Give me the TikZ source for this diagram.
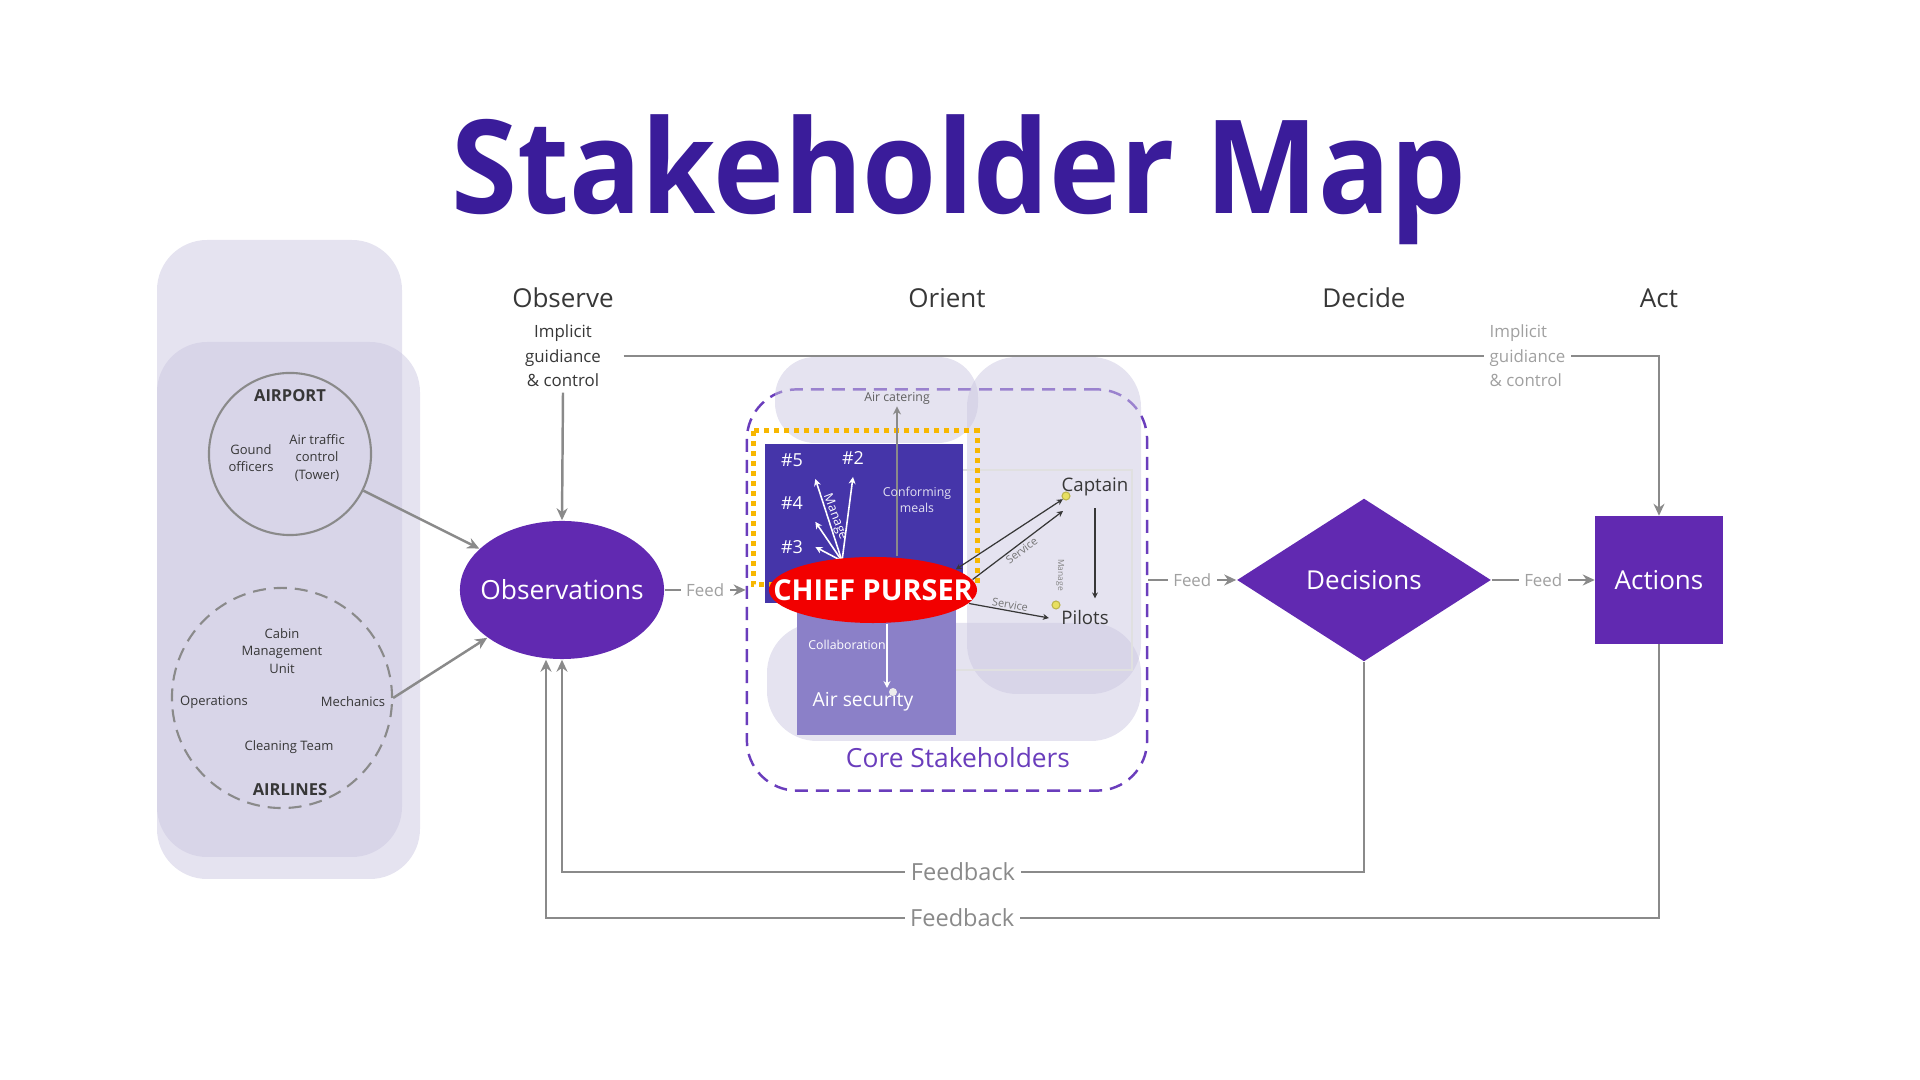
\documentclass[tikz,border=0pt]{standalone}
\usepackage{fontspec}
\setmainfont{Open Sans}
\usetikzlibrary{arrows.meta,positioning,calc,shapes.geometric}
\definecolor{titleindigo}{RGB}{58,28,154}
\definecolor{loopviolet}{RGB}{97,41,177}
\definecolor{crewblue}{RGB}{69,53,169}
\definecolor{securitylilac}{RGB}{139,128,200}
\definecolor{hazelilac}{RGB}{203,199,225}
\definecolor{linegray}{RGB}{138,138,138}
\definecolor{labelgray}{RGB}{160,160,160}
\definecolor{inkgray}{RGB}{55,55,55}
\definecolor{pursered}{RGB}{242,0,0}
\definecolor{focusyellow}{RGB}{247,183,0}
\definecolor{coreviolet}{RGB}{106,61,188}
\definecolor{dotyellow}{RGB}{232,224,96}
\newcommand{\fsz}[2]{\fontsize{#1}{#2}\selectfont}

\begin{document}
\begin{tikzpicture}[x=0.01cm,y=-0.01cm,
  hazebox/.style={fill=hazelilac,fill opacity=0.5,draw=none,rounded corners=0.5cm},
  group/.style={circle,draw=linegray,line width=0.6pt,minimum size=1.62cm,inner sep=0pt},
  member/.style={text=inkgray,align=center,font=\fsz{3.7}{4.9}},
  groupname/.style={text=inkgray,font=\bfseries\fsz{4.7}{5.5}},
  phase/.style={text=inkgray,font=\fsz{7.4}{9}},
  hint/.style={align=center,text=inkgray,font=\fsz{4.8}{7},inner sep=1.4pt},
  loopnode/.style={fill=loopviolet,text=white,inner sep=0pt,font=\fsz{7.4}{9}},
  conn/.style={-{Stealth[length=1.2mm,width=1.1mm]},line width=0.7pt,draw=linegray},
  feedlbl/.style={fill=white,text=labelgray,inner sep=1.6pt,font=\fsz{4.8}{6}},
  fblbl/.style={fill=white,text=linegray,inner sep=1.6pt,font=\fsz{6.7}{8}},
  crew/.style={text=white,font=\fsz{5.1}{6}},
  smalltxt/.style={font=\fsz{3.5}{4.4},inner sep=0.5pt},
  warr/.style={-{Stealth[length=0.7mm,width=0.7mm]},line width=0.45pt,draw=white},
  darr/.style={-{Stealth[length=0.6mm,width=0.6mm]},line width=0.35pt,draw=inkgray},
  stakedot/.style={circle,inner sep=0pt,minimum size=0.08cm,line width=0.3pt}
]
\useasboundingbox (0,0) rectangle (1920,1080);
% ---------------- title ----------------
\node[text=titleindigo,font=\bfseries\fsz{37}{40},xscale=0.92,anchor=base] (title) at (959,214) {Stakeholder Map};
% ---------------- outside stakeholders (left panel) ----------------
\fill[hazebox] (157,240) rectangle (402,857);
\fill[hazebox] (157,342) rectangle (420,879);
\node[group] (airport) at (290,454) {};
\node[groupname] (airportlbl) at (290,396) {AIRPORT};
\node[member] (ground) at (251,458) {Gound\\officers};
\node[member] (atc) at (317,458) {Air traffic\\control\\(Tower)};
\node[group,dash pattern=on 0.13cm off 0.08cm,minimum size=2.2cm] (airlines) at (282,698) {};
\node[member] (cmu) at (282,651) {Cabin\\Management\\Unit};
\node[member] (ops) at (214,702) {Operations};
\node[member] (mech) at (353,702) {Mechanics};
\node[member] (clean) at (289,747) {Cleaning Team};
\node[groupname] (airlineslbl) at (290,790) {AIRLINES};
% ---------------- OODA row ----------------
\node[phase] (hobserve) at (563,298) {Observe};
\node[phase] (horient) at (947,298) {Orient};
\node[phase] (hdecide) at (1364,298) {Decide};
\node[phase] (hact) at (1659,298) {Act};
\node[hint,inner xsep=0.22cm] (implobs) at (563,356) {Implicit\\guidiance\\\& control};
\node[hint,text=labelgray,align=left,anchor=west] (implact) at (1484,356) {Implicit\\guidiance\\\& control};
\node[loopnode,ellipse,minimum width=2.04cm,minimum height=1.38cm,label={[text=white,font=\fsz{7.5}{9}]center:Observations}] (obs) at (562,590) {};
\node[draw=coreviolet,line width=0.7pt,dash pattern=on 0.13cm off 0.08cm,rounded corners=0.5cm,minimum width=4cm,minimum height=4.01cm] (core) at (947,590) {};
\node[loopnode,diamond,minimum width=2.54cm,minimum height=1.63cm] (dec) at (1364,580) {Decisions};
\node[loopnode,minimum size=1.27cm] (act) at (1659,580) {Actions};
% ---------------- core stakeholders ----------------
\fill[hazebox,rounded corners=0.4cm] (775,357) rectangle (978,443);
\fill[hazebox] (967,357) rectangle (1141,694);
\fill[hazebox] (767,623) rectangle (1141,741);
\draw[black!12,line width=0.3pt] (945,470) rectangle (1132,670);
\fill[crewblue] (765,444) rectangle (963,603);
\fill[securitylilac] (797,603) rectangle (956,735);
\draw[focusyellow,line width=0.05cm,dash pattern=on 0.05cm off 0.05cm] (753,431) rectangle (977,585);
\node[text=coreviolet,font=\fsz{7.5}{9}] (corelbl) at (958,758) {Core Stakeholders};
\node[crew] (n5) at (792,460) {\#5};
\node[crew] (n2) at (853,458) {\#2};
\node[crew] (n4) at (792,503) {\#4};
\node[crew] (n3) at (792,547) {\#3};
\coordinate (hub) at (842,561);
\draw[warr] (hub) -- (n5.south east);
\draw[warr] (hub) -- (n2.south);
\draw[warr] (hub) -- (n4.south east);
\draw[warr] (hub) -- (n3.east);
\node[smalltxt,text=white,rotate=-69,font=\fsz{3.6}{4.4}] (mng) at (835,517) {Manage};
\node[smalltxt,text=inkgray!80] (catering) at (897,398) {Air catering};
\node[ellipse,fill=pursered,inner sep=0pt,minimum width=2.08cm,minimum height=0.66cm,label={[text=white,font=\bfseries\fsz{8.2}{9}]center:CHIEF PURSER}] (purser) at (873,590) {};
\draw[-{Stealth[length=0.8mm,width=0.8mm]},line width=0.5pt,draw=linegray] (catering.south |- purser.north) -- (catering.south);
\node[smalltxt,text=white!85!crewblue,align=center] (meals) at (917,500) {Conforming\\meals};
\node[smalltxt,text=white] (collab) at (847,645) {Collaboration};
\coordinate (collabend) at (887,688);
\draw[warr] (collabend |- purser.south) -- (collabend);
\node[text=white,font=\fsz{5.5}{6.5}] (airsec) at (863,702) {Air security};
\node[stakedot,fill=white!85!gray] (secdot) at (893,692) {};
\node[text=inkgray,font=\fsz{5.3}{6.5}] (captain) at (1095,487) {Captain};
\node[text=inkgray,font=\fsz{5.3}{6.5}] (pilots) at (1085,618) {Pilots};
\node[stakedot,fill=dotyellow,draw=olive!60] (capdot) at (1066,496) {};
\node[stakedot,fill=dotyellow,draw=olive!60] (pildot) at (1056,605) {};
\coordinate (capin) at (1063,511);
\draw[darr,{Stealth[length=0.6mm,width=0.6mm]}-{Stealth[length=0.6mm,width=0.6mm]}] (purser.14) -- (capdot.south west);
\draw[darr] (purser.6) -- node[sloped,below,smalltxt,text=inkgray!70,font=\fsz{3.1}{4}] {Service} (capin);
\draw[darr] (purser.-8) -- node[sloped,above,smalltxt,text=inkgray!70,font=\fsz{3.1}{4}] {Service} (pilots.west);
\draw[darr] (captain.south) -- (captain.south |- pilots.north);
\node[text=inkgray!60,font=\fsz{2.4}{3},rotate=-90] (mng2) at (1060,575) {Manage};
% ---------------- connectors ----------------
\draw[conn] (airport) -- (obs);
\draw[conn] (airlines.east) -- (obs);
\draw[conn] (implobs.south) -- (obs.north);
\draw[line width=0.7pt,draw=linegray] (implobs.east) -- (implact.west);
\draw[conn] (implact.east) -| (act.north);
\draw[conn] (obs) -- node[feedlbl]{Feed} (core);
\draw[conn] (core.east |- dec) -- node[feedlbl]{Feed} (dec);
\draw[conn] (dec) -- node[feedlbl]{Feed} (act);
\coordinate (fbinner) at (562,872);
\coordinate (fbouter) at (546,918);
\draw[conn] (dec.south) |- node[fblbl,pos=0.75]{Feedback} (fbinner) -- (obs.south);
\draw[conn] (act.south) |- node[fblbl,pos=0.813]{Feedback} (fbouter) -- (fbouter |- obs.south);
\end{tikzpicture}
\end{document}
